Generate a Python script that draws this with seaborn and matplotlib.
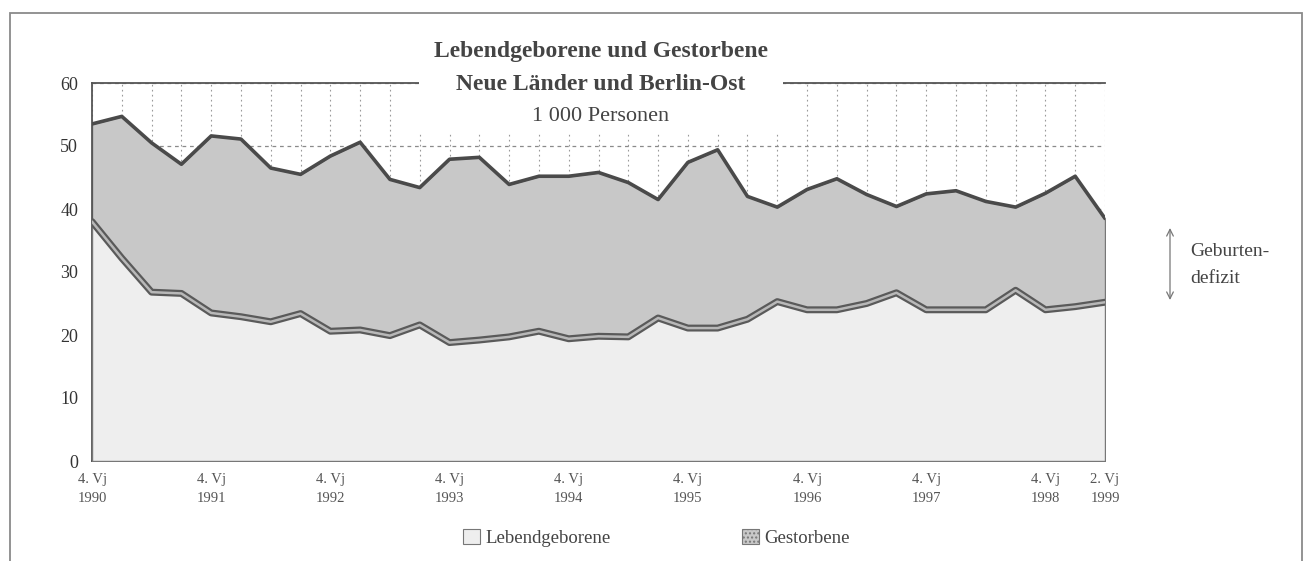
import matplotlib
matplotlib.use("Agg")
import matplotlib.pyplot as plt
from matplotlib.patches import Patch, Rectangle
import numpy as np
import pandas as pd
import seaborn as sns

# Quartale 4. Vj 1990 ... 2. Vj 1999, Werte in 1 000 Personen
births = [38.0, 32.2, 26.8, 26.6, 23.5, 22.9, 22.1, 23.4, 20.6, 20.8,
          19.9, 21.6, 18.8, 19.2, 19.7, 20.6, 19.4, 19.8, 19.7, 22.7,
          21.1, 21.1, 22.5, 25.3, 24.0, 24.0, 25.0, 26.7, 24.0, 24.0,
          24.0, 27.1, 24.0, 24.5, 25.2]
deaths = [53.5, 54.7, 50.5, 47.1, 51.6, 51.1, 46.5, 45.5, 48.4, 50.6,
          44.7, 43.4, 47.9, 48.2, 43.9, 45.2, 45.2, 45.8, 44.2, 41.5,
          47.4, 49.4, 42.0, 40.3, 43.1, 44.8, 42.3, 40.4, 42.4, 42.9,
          41.2, 40.3, 42.5, 45.2, 38.5]
tick_pos = [0, 4, 8, 12, 16, 20, 24, 28, 32, 34]
tick_labels = ["4. Vj\n1990", "4. Vj\n1991", "4. Vj\n1992", "4. Vj\n1993",
               "4. Vj\n1994", "4. Vj\n1995", "4. Vj\n1996", "4. Vj\n1997",
               "4. Vj\n1998", "2. Vj\n1999"]
series_names = ["Lebendgeborene", "Gestorbene"]

df = pd.DataFrame({"q": np.arange(len(births)), "births": births, "deaths": deaths})

sns.set_theme(style="white")
plt.rcParams["font.family"] = ["Liberation Serif", "DejaVu Serif"]

fig = plt.figure(figsize=(13.05, 5.61), dpi=100)
ax = fig.add_axes([92 / 1305, 1 - 461 / 561, (1105 - 92) / 1305, (461 - 83) / 561])

c_birth = "#eeeeee"
c_death = "#c8c8c8"

# Gitter (hinter den Flächen)
ax.set_axisbelow(True)
ax.set_xticks(df["q"], minor=True)
ax.grid(True, which="both", axis="x", color="#9a9a9a", linestyle=(0, (1.5, 3)), linewidth=0.8)
ax.grid(True, which="major", axis="y", color="#8a8a8a", linestyle=(0, (3, 3)), linewidth=0.9)

# Flächen
ax.fill_between(df["q"], 0, df["deaths"], facecolor=c_death, edgecolor="#777777",
                linewidth=1.0, zorder=2)
ax.fill_between(df["q"], 0, df["births"], facecolor=c_birth, edgecolor="#777777",
                linewidth=1.0, zorder=3)

# Kanten mit "3D"-Band
sns.lineplot(data=df, x="q", y="deaths", ax=ax, color="#4a4a4a", linewidth=2.6, zorder=4)
sns.lineplot(data=df, x="q", y="births", ax=ax, color="#5a5a5a", linewidth=5.0, zorder=5)
sns.lineplot(data=df, x="q", y="births", ax=ax, color="#b8b8b8", linewidth=1.8, zorder=6)

ax.set_xlim(0, len(births) - 1)
ax.set_ylim(0, 60)
ax.set_yticks(range(0, 61, 10))
ax.set_xticks(tick_pos)
ax.set_xticklabels(tick_labels, fontsize=10.5, color="#555555", linespacing=1.6)
ax.tick_params(axis="y", labelsize=13, colors="#333333", length=5, width=1, direction="out", pad=5)
ax.tick_params(axis="x", which="both", length=4, width=1, direction="out", colors="#666666", pad=5)
ax.tick_params(axis="x", labelcolor="#555555")
ax.set_xlabel("")
ax.set_ylabel("")

for side in ["left", "bottom", "top"]:
    ax.spines[side].set_visible(True)
    ax.spines[side].set_color("#555555")
    ax.spines[side].set_linewidth(1.3)
ax.spines["right"].set_visible(False)

# Titel
tx = 601 / 1305
fig.text(tx, 1 - 85 / 561, "Neue Länder und Berlin-Ost", ha="center", va="center",
         fontsize=17, fontweight="bold", color="#444444", zorder=5,
         bbox=dict(boxstyle="square,pad=1.6", facecolor="white", edgecolor="none"))
fig.text(tx, 1 - 52 / 561, "Lebendgeborene und Gestorbene", ha="center", va="center",
         fontsize=17, fontweight="bold", color="#444444", zorder=6)
fig.text(tx, 1 - 117 / 561, "1 000 Personen", ha="center", va="center",
         fontsize=16, color="#444444", zorder=6)

# Geburtendefizit
fig.add_artist(plt.Annotation("", xy=(1170 / 1305, 1 - 300 / 561), xytext=(1170 / 1305, 1 - 228 / 561),
                              xycoords="figure fraction", textcoords="figure fraction",
                              arrowprops=dict(arrowstyle="<->", color="#777777", lw=0.9,
                                              shrinkA=0, shrinkB=0)))
fig.text(1190 / 1305, 1 - 265 / 561, "Geburten-\ndefizit", ha="left", va="center",
         fontsize=14, color="#444444", linespacing=1.7)

# Legende
handles = [Patch(facecolor=c_birth, edgecolor="#777777", linewidth=0.8),
           Patch(facecolor=c_death, edgecolor="#777777", linewidth=0.8, hatch="....")]
fig.legend(handles, series_names, loc="center", bbox_to_anchor=(0.503, 1 - 538 / 561),
           ncol=2, frameon=False, fontsize=13.5, handlelength=0.9, handleheight=0.9,
           handletextpad=0.3, columnspacing=7.0, labelcolor="#444444")

# Rahmen
fig.add_artist(Rectangle((10 / 1305, -0.2), (1302 - 10) / 1305, 1.2 - 13 / 561,
                         transform=fig.transFigure, fill=False, edgecolor="#8a8a8a", linewidth=1.3))

fig.savefig("out.png", dpi=100)
plt.close(fig)
